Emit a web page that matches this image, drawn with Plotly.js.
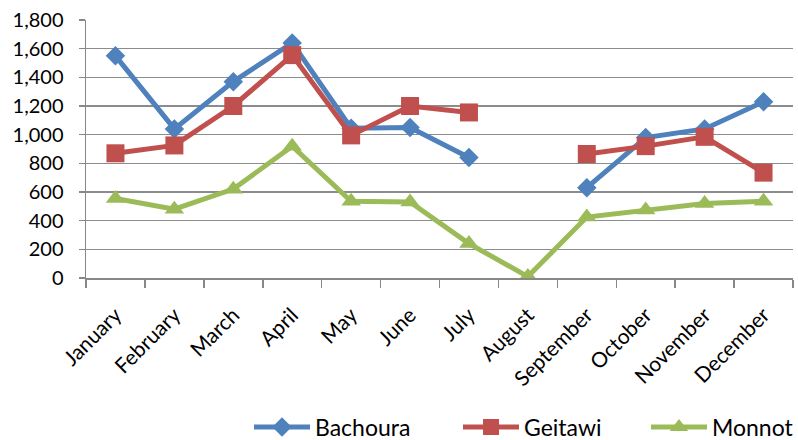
<!DOCTYPE html>
<html><head><meta charset="utf-8">
<script src="https://cdn.plot.ly/plotly-3.0.1.min.js"></script>
<style>body{margin:0;background:#fff}#chart{width:798px;height:440px}</style>
</head><body><div id="chart"></div>
<script>
const months = ["January","February","March","April","May","June","July","August","September","October","November","December"];
const bachoura = [1550, 1040, 1370, 1640, 1045, 1050, 840, null, 630, 980, 1040, 1230];
const geitawi = [870, 925, 1200, 1555, 995, 1200, 1155, null, 865, 920, 985, 735];
const monnot = [555, 480, 620, 920, 535, 530, 240, 10, 425, 475, 520, 535];
const yTicks = [0, 200, 400, 600, 800, 1000, 1200, 1400, 1600, 1800];

const font = "Lato, 'Open Sans', sans-serif";
function tr(name, y, color, symbol, size, leg) {
  return {x: months, y: y, name: name, type: 'scatter', mode: 'lines+markers',
    connectgaps: false, legend: leg,
    line: {color: color, width: 5},
    marker: {symbol: symbol, size: size, color: color}};
}
const data = [
  tr('Bachoura', bachoura, '#4F81BD', 'diamond', 15, 'legend'),
  tr('Geitawi', geitawi, '#C0504D', 'square', 18, 'legend2'),
  tr('Monnot', monnot, '#9BBB59', 'triangle-up', 17, 'legend3')
];
function leg(xpx) {
  return {orientation: 'h', xref: 'container', x: xpx / 798, xanchor: 'left',
    yref: 'container', y: 13 / 440, yanchor: 'middle',
    font: {family: font, size: 23, color: '#000'}, itemwidth: 56,
    bgcolor: 'rgba(0,0,0,0)', borderwidth: 0};
}
const layout = {
  width: 798, height: 440,
  margin: {l: 86, r: 5, t: 20, b: 162},
  paper_bgcolor: '#fff', plot_bgcolor: '#fff',
  font: {family: font, size: 20, color: '#000'},
  showlegend: true,
  legend: leg(249), legend2: leg(458), legend3: leg(646),
  xaxis: {type: 'category', range: [-0.5, 11.5], tickangle: -45, automargin: false,
    showline: true, linecolor: '#888', linewidth: 1.5,
    ticks: 'outside', ticklen: 8, tickcolor: '#888', tickwidth: 1.5,
    tickson: 'boundaries', showgrid: false, zeroline: false,
    ticklabelstandoff: 15,
    tickfont: {family: font, size: 21}},
  yaxis: {range: [0, 1800], tickvals: yTicks, tickformat: ',d', automargin: false,
    showline: true, linecolor: '#888', linewidth: 1.5,
    ticks: 'outside', ticklen: 6, tickcolor: '#888', tickwidth: 1.5,
    showgrid: true, gridcolor: '#8c8c8c', gridwidth: 1.5, zeroline: false,
    ticklabelstandoff: 11,
    tickfont: {family: font, size: 20}}
};
Plotly.newPlot('chart', data, layout, {displayModeBar: false, staticPlot: true});
</script></body></html>
